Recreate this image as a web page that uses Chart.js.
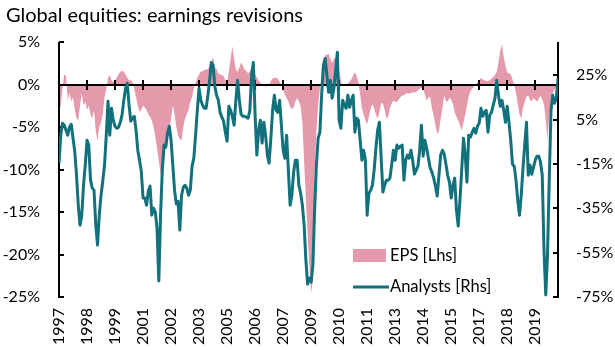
<!DOCTYPE html>
<html>
<head>
<meta charset="utf-8">
<title>Global equities: earnings revisions</title>
<script src="https://cdn.jsdelivr.net/npm/chart.js@4.4.1/dist/chart.umd.min.js"></script>
<style>
  html, body { margin: 0; padding: 0; background: #fff; }
</style>
</head>
<body>
<canvas id="chart" width="615" height="350"></canvas>
<script>
// ── data (monthly, Jan 1997 → Oct 2020) ─────────────────────────────────────

const TITLE = 'Global equities: earnings revisions';

// x-axis labels, one every 16 months (Excel date axis)
const YEAR_LABELS = ['1997', '1998', '1999', '2001', '2002', '2003', '2005', '2006', '2007',
  '2009', '2010', '2011', '2013', '2014', '2015', '2017', '2018', '2019'];
const MONTHS_PER_LABEL = 16;

const LHS_TICKS = [5, 0, -5, -10, -15, -20, -25];
const RHS_TICKS = [25, 5, -15, -35, -55, -75];

// EPS revisions, % (left axis)
const EPS = [
  -3.0, -2.5, -0.5, 1.2, 1.0, -1.9, -1.0, -2.0, -1.5, -3.0,
  -4.0, -4.2, -2.5, -1.0, -2.5, -2.0, -3.0, -2.5, -3.5, -4.0,
  -3.0, -5.5, -6.6, -5.0, -4.5, -3.5, -1.5, -0.5, 0.8, 1.1,
  0.5, 0.3, 0.5, 0.8, 1.2, 1.5, 1.6, 1.5, 1.2, 0.8,
  0.5, 0.5, 0.3, -0.5, -1.5, -2.5, -3.2, -3.0, -2.5, -2.7,
  -3.0, -3.5, -3.8, -4.2, -5.0, -6.2, -7.5, -9.0, -10.5, -11.3,
  -9.0, -7.2, -6.0, -5.5, -4.0, -2.5, -3.5, -5.0, -6.0, -6.4,
  -6.6, -5.0, -4.0, -3.5, -3.0, -2.0, -1.5, -0.5, 0.2, 0.8,
  1.2, 1.5, 1.6, 1.7, 1.8, 1.8, 2.2, 2.6, 3.2, 2.0,
  1.8, 1.3, 1.2, 1.1, 1.0, 0.5, 0.2, 1.6, 3.0, 4.5,
  3.0, 1.8, 1.5, 2.0, 2.6, 2.2, 1.8, 1.6, 1.3, 1.6,
  2.0, 1.5, 1.2, 0.8, 0.5, 0.2, 0.0, -0.2, -0.2, -0.2,
  0.0, 0.4, 0.7, 0.8, 0.8, 0.7, 0.3, 0.0, -0.6, -1.2,
  -1.6, -2.0, -2.6, -2.9, -2.7, -2.0, -1.6, -2.0, -2.5, -4.5,
  -9.0, -13.5, -17.5, -21.5, -24.5, -23.0, -10.5, -5.5, -2.5, -0.5,
  1.0, 2.3, 3.4, 3.5, 3.6, 3.0, 2.5, 3.0, 3.2, 2.5,
  1.6, 0.5, -0.3, 0.0, 0.1, 0.1, 0.4, 0.6, 1.1, 1.4,
  1.0, 0.3, -1.2, -2.8, -3.5, -4.2, -4.7, -3.8, -2.8, -2.3,
  -2.8, -3.6, -4.0, -3.2, -2.2, -2.2, -3.0, -4.0, -3.8, -2.8,
  -2.2, -1.9, -2.0, -2.1, -1.8, -1.5, -1.3, -1.3, -1.1, -1.0,
  -1.1, -1.0, -0.9, -0.9, -0.9, -0.7, -0.5, -0.4, -0.4, -1.2,
  -1.9, -1.5, -1.5, -2.8, -3.7, -4.8, -5.8, -5.5, -4.0, -2.8,
  -1.3, -2.0, -2.0, -1.6, -1.8, -2.3, -3.3, -3.8, -4.2, -4.8,
  -5.4, -4.5, -3.6, -2.5, -1.4, -0.8, -0.5, -0.3, 0.0, 0.2,
  0.4, 0.8, 0.6, 0.5, 0.4, 0.4, 0.5, 0.7, 0.9, 1.1,
  1.5, 2.6, 4.0, 4.7, 3.2, 2.2, 1.4, 1.3, 1.2, 0.6,
  0.0, -1.0, -2.3, -3.5, -4.0, -2.8, -2.0, -1.4, -1.3, -1.8,
  -2.0, -1.6, -1.8, -2.0, -1.7, -1.3, -1.8, -2.3, -4.2, -6.5,
  -3.5, -1.9, -1.0, -0.6, -0.2, 0.0
];

// Analysts' net revisions, % (right axis)
const ANALYSTS = [
  -14.6, -2.0, 3.4, 2.5, 0.2, -2.0, 1.6, 2.9, -3.4, -9.2,
  -20.1, -33.6, -42.6, -38.1, -24.6, -15.5, -4.3, -6.5, -22.3, -25.9,
  -26.8, -42.6, -51.6, -38.1, -29.1, -22.8, -15.5, -2.0, 13.3, -2.0,
  10.1, 4.7, 2.0, 1.1, 1.6, 3.8, 7.0, 13.7, 19.1, 21.4,
  11.5, 4.3, 5.6, 6.5, 0.2, -8.8, -13.3, -18.3, -30.4, -30.4,
  -33.6, -27.3, -25.0, -38.1, -34.9, -36.7, -43.9, -67.8, -38.1, -17.8,
  -6.5, -7.4, -1.1, 2.0, -4.3, -15.5, -26.8, -33.1, -31.8, -44.8,
  -29.1, -25.5, -24.6, -25.9, -29.1, -26.8, -16.0, -12.4, -2.0, 9.2,
  19.1, 13.7, 11.5, 10.1, 10.1, 15.5, 22.7, 30.8, 29.5, 20.0,
  16.0, 13.7, 8.3, 6.1, 4.3, -0.7, -4.7, 11.0, 9.2, 6.5,
  2.5, 13.7, 22.7, 13.7, 7.4, 6.5, 6.5, 6.1, 5.6, 9.2,
  25.0, 30.8, 7.0, -11.0, 0.2, 4.7, -5.6, 3.8, -2.0, -11.0,
  -14.6, -3.4, 9.2, 16.0, 9.2, 8.3, 13.7, 2.5, -8.8, -12.4,
  -2.0, -17.8, -33.6, -29.1, -18.7, -13.3, -13.3, -24.6, -28.2, -33.6,
  -42.6, -58.3, -69.2, -66.5, -68.3, -60.6, -35.8, -15.5, -3.4, -0.7,
  16.0, 29.5, 32.6, 25.0, 17.3, 22.7, 14.6, 19.1, 27.3, 35.4,
  4.7, 1.1, 13.7, 11.5, 10.1, 16.0, 10.6, 13.7, 16.0, -0.7,
  5.6, 4.7, -4.3, -13.3, -8.8, -13.3, -38.1, -28.2, -26.8, -24.6,
  -17.8, -7.9, 0.2, 3.8, -12.4, -27.7, -24.6, -22.3, -22.3, -21.4,
  -15.5, -8.8, -13.3, -6.5, -7.9, -7.0, -6.5, -22.3, -13.3, -11.0,
  -12.4, -8.8, -13.3, -19.6, -17.8, -16.0, -8.8, 2.5, -11.5, -4.3,
  -7.9, -12.4, -16.9, -18.7, -21.4, -25.0, -29.5, -20.1, -11.0, -8.8,
  -10.6, -15.1, -20.1, -23.2, -30.4, -24.6, -21.4, -35.8, -43.0, -31.3,
  -17.8, -3.4, -11.0, -23.2, -2.0, -2.9, -0.7, 1.1, -1.1, 2.0,
  3.4, 10.1, 6.5, 8.3, 9.2, -0.7, 7.0, 8.3, 11.5, 14.6,
  22.7, 16.0, 11.0, 13.7, 9.2, 3.8, 11.0, 3.8, -4.3, -15.1,
  -16.0, -22.3, -31.3, -38.1, -29.1, -16.9, -6.5, 3.8, -20.1, -15.5,
  -19.6, -16.5, -13.3, -11.5, -11.5, -14.2, -20.1, -53.8, -74.1, -56.1,
  -22.3, 9.2, 16.0, 12.4, 14.6, 23.6
];

// ── style ───────────────────────────────────────────────────────────────────

const PINK = '#E59AAB';
const TEAL = '#11717D';
const FONT = 'Lato, "Open Sans", sans-serif';

const asPoints = arr => arr.map((v, i) => ({ x: i, y: v }));

function strokeLine(ctx, x1, y1, x2, y2) {
  ctx.beginPath();
  ctx.moveTo(x1, y1);
  ctx.lineTo(x2, y2);
  ctx.stroke();
}

// Excel-style axes: zero line with crossing ticks, inside ticks on both value axes.
// Drawn after the EPS area, before the analysts line.
const excelAxes = {
  id: 'excelAxes',
  afterDatasetDraw(chart, args) {
    if (args.index !== 0) return;
    const { ctx, chartArea: a, scales: { x, y1, y2 } } = chart;
    const y0 = Math.round(y1.getPixelForValue(0));
    ctx.save();
    ctx.strokeStyle = '#000';
    ctx.lineWidth = 2;
    strokeLine(ctx, a.left, y0, a.right, y0);
    strokeLine(ctx, a.left, a.top, a.left, a.bottom + 1);
    strokeLine(ctx, a.right, a.top, a.right, a.bottom + 1);
    y1.ticks.forEach(t => {
      const p = Math.round(y1.getPixelForValue(t.value));
      strokeLine(ctx, a.left, p, a.left + 5, p);
    });
    y2.ticks.forEach(t => {
      const p = Math.round(y2.getPixelForValue(t.value));
      strokeLine(ctx, a.right - 5, p, a.right, p);
    });
    x.ticks.forEach(t => {
      const p = Math.round(x.getPixelForValue(t.value));
      strokeLine(ctx, p, y0 - 5, p, y0 + 5);
    });
    ctx.restore();
  }
};

// title (left of the plot edge) and legend (inside the plot, lower right)
const annotations = {
  id: 'annotations',
  afterDraw(chart) {
    const { ctx } = chart;
    const [eps, analysts] = chart.data.datasets;
    ctx.save();
    ctx.textBaseline = 'middle';
    ctx.fillStyle = '#000';
    ctx.font = `20px ${FONT}`;
    ctx.fillText(TITLE, 6, 16);

    ctx.font = `16.5px ${FONT}`;
    ctx.fillStyle = eps.backgroundColor;
    ctx.fillRect(353, 249, 33, 13);
    ctx.fillStyle = '#000';
    ctx.fillText(eps.label, 390, 256);
    ctx.strokeStyle = analysts.borderColor;
    ctx.lineWidth = 3;
    strokeLine(ctx, 353, 287, 389, 287);
    ctx.fillText(analysts.label, 390, 287);
    ctx.restore();
  }
};

const tickFont = { family: FONT, size: 16 };

new Chart(document.getElementById('chart'), {
  type: 'line',
  data: {
    datasets: [
      {
        label: 'EPS [Lhs]',
        data: asPoints(EPS),
        yAxisID: 'y1',
        borderWidth: 0,
        backgroundColor: PINK,
        fill: 'origin',
        pointRadius: 0,
        tension: 0,
        order: 2,
      },
      {
        label: 'Analysts [Rhs]',
        data: asPoints(ANALYSTS),
        yAxisID: 'y2',
        borderColor: TEAL,
        borderWidth: 3,
        borderJoinStyle: 'round',
        fill: false,
        pointRadius: 0,
        tension: 0,
        order: 1,
      },
    ],
  },
  options: {
    responsive: false,
    animation: false,
    layout: { padding: { left: 0, right: 0, top: 42, bottom: 0 } },
    scales: {
      x: {
        type: 'linear',
        min: 0,
        max: ANALYSTS.length - 1,
        afterBuildTicks: s => { s.ticks = YEAR_LABELS.map((_, i) => ({ value: i * MONTHS_PER_LABEL })); },
        afterFit: s => { s.height = 53; },
        grid: { display: false, drawTicks: false },
        border: { display: false },
        ticks: {
          callback: v => YEAR_LABELS[Math.round(v / MONTHS_PER_LABEL)],
          autoSkip: false,
          minRotation: 90,
          maxRotation: 90,
          padding: 11,
          color: '#000',
          font: tickFont,
        },
      },
      y1: {
        position: 'left',
        min: -25,
        max: 5,
        afterBuildTicks: s => { s.ticks = LHS_TICKS.map(v => ({ value: v })); },
        afterFit: s => { s.width = 59; },
        grid: { display: false, drawTicks: false },
        border: { display: false },
        ticks: { callback: v => v + '%', padding: 19, color: '#000', font: tickFont },
      },
      y2: {
        position: 'right',
        min: -75,
        max: 40,
        afterBuildTicks: s => { s.ticks = RHS_TICKS.map(v => ({ value: v })); },
        afterFit: s => { s.width = 57; },
        grid: { display: false, drawTicks: false },
        border: { display: false },
        ticks: { callback: v => v + '%', padding: 18, color: '#000', font: tickFont },
      },
    },
    plugins: {
      legend: { display: false },
      tooltip: { enabled: false },
      title: { display: false },
    },
  },
  plugins: [excelAxes, annotations],
});
</script>
</body>
</html>
